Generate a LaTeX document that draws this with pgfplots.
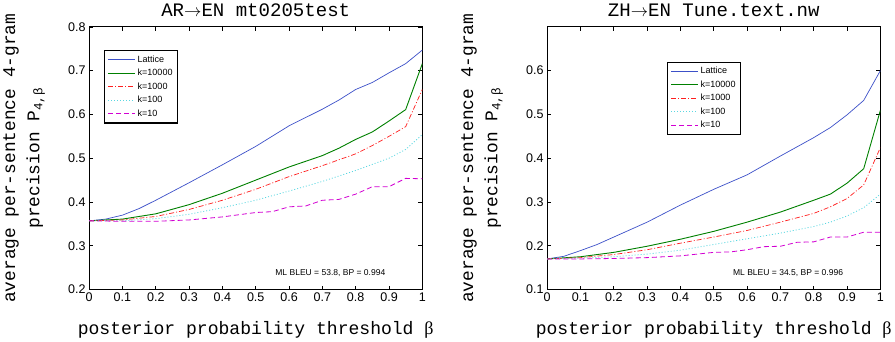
\documentclass[border=0pt]{standalone}
\usepackage{fontspec}
\setmainfont{Liberation Sans}
\setmonofont{Liberation Mono}
\newfontfamily\betafont{Liberation Serif}
\usepackage{pgfplots}
\pgfplotsset{compat=1.18}

\definecolor{mblue}{RGB}{60,80,200}
\definecolor{mgreen}{RGB}{0,128,0}
\definecolor{mred}{RGB}{255,30,30}
\definecolor{mcyan}{RGB}{90,215,225}
\definecolor{mmag}{RGB}{210,0,210}

\pgfplotsset{
 mystyle/.style={
  width=331bp, height=261bp, scale only axis,
  xmin=0, xmax=1,
  xtick={0,0.1,0.2,0.3,0.4,0.5,0.6,0.7,0.8,0.9,1},
  xticklabels={0,0.1,0.2,0.3,0.4,0.5,0.6,0.7,0.8,0.9,1},
  tick label style={font=\fontsize{12.5}{14}\selectfont},
  /pgf/number format/assume math mode=true,
  major tick length=4bp,
  tick style={black, line width=0.6bp},
  axis line style={line width=0.9bp},
  title style={font=\fontsize{19}{22}\selectfont\ttfamily, at={(axis description cs:0.5,1.042)}, anchor=center},
  xlabel style={font=\fontsize{18}{22}\selectfont\ttfamily, at={(axis description cs:0.5,-0.153)}, anchor=center},
  ylabel style={font=\fontsize{17.8}{24}\selectfont\ttfamily, align=center, at={(axis description cs:-0.195,0.5)}, anchor=center, rotate=0},
  xlabel={posterior probability threshold {\betafont β}},
  ylabel={average per-sentence 4-gram\\precision P\textsubscript{4,β}},
  legend cell align=left,
  legend style={font=\fontsize{9}{10}\selectfont, draw=black, line width=1.2bp, inner xsep=3bp, inner ysep=3bp, row sep=1.5bp},
  legend image code/.code={\draw[line width=0.8bp,#1] (0cm,0cm) -- (0.95cm,0cm);},
  lat/.style={mblue, line width=0.7bp},
  k4/.style={mgreen, line width=0.9bp},
  k3/.style={mred, line width=0.7bp, dash pattern=on 5bp off 2bp on 1bp off 2bp},
  k2/.style={mcyan, line width=0.8bp, dash pattern=on 1bp off 2bp},
  k1/.style={mmag, line width=0.8bp, dash pattern=on 5bp off 3bp},
 }
}

\begin{document}
\begin{tikzpicture}
\begin{axis}[mystyle,
  ymin=0.2, ymax=0.8,
  ytick={0.2,0.3,0.4,0.5,0.6,0.7,0.8},
  yticklabels={0.2,0.3,0.4,0.5,0.6,0.7,0.8},
  title={AR$\rightarrow$EN mt0205test},
  legend style={at={(0.045,0.912)}, anchor=north west},
]
\addplot[lat] coordinates {(0,0.357)(0.05,0.361)(0.1,0.370)(0.15,0.385)(0.2,0.404)(0.3,0.444)(0.4,0.485)(0.5,0.527)(0.6,0.574)(0.7,0.612)(0.75,0.633)(0.8,0.657)(0.85,0.673)(0.9,0.695)(0.95,0.716)(1,0.747)};
\addlegendentry{Lattice}
\addplot[k4] coordinates {(0,0.357)(0.1,0.361)(0.2,0.373)(0.3,0.394)(0.4,0.420)(0.5,0.450)(0.6,0.480)(0.7,0.506)(0.75,0.523)(0.8,0.543)(0.85,0.560)(0.9,0.585)(0.95,0.611)(1,0.716)};
\addlegendentry{k=10000}
\addplot[k3] coordinates {(0,0.357)(0.1,0.359)(0.2,0.367)(0.3,0.383)(0.4,0.404)(0.5,0.429)(0.6,0.458)(0.7,0.483)(0.8,0.510)(0.85,0.529)(0.9,0.550)(0.95,0.572)(1,0.657)};
\addlegendentry{k=1000}
\addplot[k2] coordinates {(0,0.357)(0.1,0.357)(0.2,0.362)(0.3,0.372)(0.4,0.387)(0.5,0.404)(0.6,0.425)(0.7,0.447)(0.8,0.472)(0.9,0.500)(0.95,0.520)(1,0.554)};
\addlegendentry{k=100}
\addplot[k1] coordinates {(0,0.357)(0.1,0.356)(0.2,0.356)(0.3,0.359)(0.4,0.366)(0.5,0.376)(0.55,0.378)(0.6,0.389)(0.65,0.391)(0.7,0.404)(0.75,0.406)(0.8,0.418)(0.85,0.435)(0.9,0.435)(0.95,0.454)(1,0.453)};
\addlegendentry{k=10}
\node[font=\fontsize{8.5}{10}\selectfont] at (axis cs:0.724,0.238) {ML BLEU = 53.8, BP = 0.994};
\end{axis}

\begin{axis}[mystyle, at={(455bp,0)},
  ymin=0.1, ymax=0.7,
  ytick={0.1,0.2,0.3,0.4,0.5,0.6},
  yticklabels={0.1,0.2,0.3,0.4,0.5,0.6},
  title={ZH$\rightarrow$EN Tune.text.nw},
  legend style={at={(0.36,0.868)}, anchor=north west},
]
\addplot[lat] coordinates {(0,0.170)(0.05,0.176)(0.1,0.189)(0.15,0.203)(0.2,0.220)(0.3,0.254)(0.4,0.293)(0.5,0.329)(0.6,0.362)(0.7,0.405)(0.8,0.447)(0.85,0.470)(0.9,0.499)(0.95,0.532)(1,0.600)};
\addlegendentry{Lattice}
\addplot[k4] coordinates {(0,0.170)(0.1,0.175)(0.2,0.185)(0.3,0.199)(0.4,0.215)(0.5,0.233)(0.6,0.254)(0.7,0.277)(0.8,0.304)(0.85,0.318)(0.9,0.343)(0.95,0.376)(1,0.509)};
\addlegendentry{k=10000}
\addplot[k3] coordinates {(0,0.170)(0.1,0.173)(0.2,0.180)(0.3,0.191)(0.4,0.206)(0.5,0.220)(0.6,0.235)(0.7,0.254)(0.8,0.274)(0.85,0.289)(0.9,0.308)(0.95,0.339)(1,0.424)};
\addlegendentry{k=1000}
\addplot[k2] coordinates {(0,0.170)(0.1,0.172)(0.2,0.175)(0.3,0.181)(0.4,0.190)(0.5,0.203)(0.6,0.216)(0.7,0.229)(0.8,0.244)(0.85,0.254)(0.9,0.268)(0.95,0.287)(1,0.318)};
\addlegendentry{k=100}
\addplot[k1] coordinates {(0,0.170)(0.1,0.170)(0.2,0.171)(0.3,0.173)(0.4,0.177)(0.5,0.185)(0.55,0.186)(0.6,0.191)(0.65,0.198)(0.7,0.199)(0.75,0.208)(0.8,0.209)(0.85,0.220)(0.9,0.220)(0.95,0.231)(1,0.231)};
\addlegendentry{k=10}
\node[font=\fontsize{8.5}{10}\selectfont] at (axis cs:0.723,0.138) {ML BLEU = 34.5, BP = 0.996};
\end{axis}
\end{tikzpicture}
\end{document}
